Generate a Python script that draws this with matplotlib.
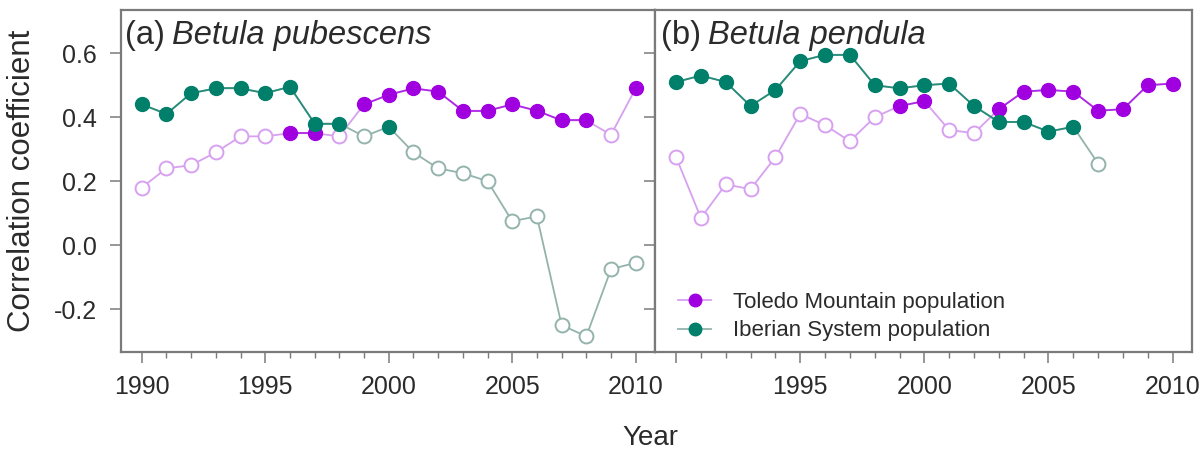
import numpy as np
import matplotlib
matplotlib.use("Agg")
import matplotlib.pyplot as plt
from matplotlib.ticker import MultipleLocator
from matplotlib.lines import Line2D

plt.rcParams['font.family'] = ['Liberation Sans', 'DejaVu Sans']

# ---------------- data ----------------
years_a = list(range(1990, 2011))
years_b_ib = list(range(1990, 2008))

# (a) Betula pubescens
a_toledo = [0.18, 0.24, 0.25, 0.29, 0.34, 0.34, 0.35, 0.35, 0.34, 0.44, 0.47,
            0.49, 0.48, 0.42, 0.42, 0.44, 0.42, 0.39, 0.39, 0.345, 0.49]
a_toledo_sig = [0, 0, 0, 0, 0, 0, 1, 1, 0, 1, 1, 1, 1, 1, 1, 1, 1, 1, 1, 0, 1]
a_iberian = [0.44, 0.41, 0.475, 0.49, 0.49, 0.475, 0.495, 0.38, 0.38, 0.34, 0.37,
             0.29, 0.24, 0.225, 0.20, 0.075, 0.09, -0.25, -0.285, -0.075, -0.055]
a_iberian_sig = [1, 1, 1, 1, 1, 1, 1, 1, 1, 0, 1, 0, 0, 0, 0, 0, 0, 0, 0, 0, 0]

# (b) Betula pendula
b_toledo = [0.275, 0.085, 0.19, 0.175, 0.275, 0.41, 0.375, 0.325, 0.40, 0.435, 0.45,
            0.36, 0.35, 0.425, 0.48, 0.485, 0.48, 0.42, 0.425, 0.50, 0.505]
b_toledo_sig = [0, 0, 0, 0, 0, 0, 0, 0, 0, 1, 1, 0, 0, 1, 1, 1, 1, 1, 1, 1, 1]
b_iberian = [0.51, 0.53, 0.51, 0.435, 0.485, 0.575, 0.595, 0.595, 0.50, 0.49,
             0.50, 0.505, 0.435, 0.385, 0.385, 0.355, 0.37, 0.255]
b_iberian_sig = [1, 1, 1, 1, 1, 1, 1, 1, 1, 1, 1, 1, 1, 1, 1, 1, 1, 0]

TOLEDO = '#A000E0'
TOLEDO_LIGHT = '#D7A0F0'
IBERIAN = '#007F6A'
IBERIAN_LIGHT = '#93B3AC'
FRAME = '#7a7a7a'
TXT = '#2b2b2b'


def draw_series(ax, x, y, sig, col, light):
    x = np.asarray(x)
    y = np.asarray(y)
    sig = np.asarray(sig, dtype=bool)
    ax.plot(x, y, color=light, lw=1.3, zorder=2)
    # darker segments between two significant years
    for i in range(len(x) - 1):
        if sig[i] and sig[i + 1]:
            ax.plot(x[i:i + 2], y[i:i + 2], color=col, lw=1.3, alpha=0.75, zorder=2)
    ax.plot(x[sig], y[sig], 'o', ms=10, color=col, mec=col, ls='none', zorder=3)
    ax.plot(x[~sig], y[~sig], 'o', ms=10, mfc='white', mec=light, mew=1.4,
            ls='none', zorder=3)


def panel_title(ax, tag, name, x0):
    t = ax.text(x0, 0.972, tag, transform=ax.transAxes, fontsize=23.5, color=TXT,
                va='top', ha='left')
    ax.annotate(name, xy=(1, 0), xycoords=t, xytext=(5, 0), textcoords='offset points',
                fontsize=23.5, color=TXT, va='bottom', ha='left', style='italic')


fig = plt.figure(figsize=(12.04, 4.54), dpi=100)
ax1 = fig.add_axes([0.1003, 0.2253, 0.4437, 0.7527])
ax2 = fig.add_axes([0.5440, 0.2253, 0.4460, 0.7527])

draw_series(ax1, years_a, a_toledo, a_toledo_sig, TOLEDO, TOLEDO_LIGHT)
draw_series(ax1, years_a, a_iberian, a_iberian_sig, IBERIAN, IBERIAN_LIGHT)
draw_series(ax2, years_a, b_toledo, b_toledo_sig, TOLEDO, TOLEDO_LIGHT)
draw_series(ax2, years_b_ib, b_iberian, b_iberian_sig, IBERIAN, IBERIAN_LIGHT)

for ax in (ax1, ax2):
    ax.set_xlim(1989.15, 2010.78)
    ax.set_ylim(-0.333, 0.735)
    ax.xaxis.set_major_locator(MultipleLocator(5))
    ax.xaxis.set_minor_locator(MultipleLocator(1))
    ax.yaxis.set_major_locator(MultipleLocator(0.2))
    for s in ax.spines.values():
        s.set_color(FRAME)
        s.set_linewidth(1.6)
    ax.tick_params(axis='both', which='major', length=8, width=1.1, color=FRAME,
                   labelsize=18, labelcolor=TXT, pad=9)
    ax.tick_params(axis='x', which='minor', length=4, width=1.0, color=FRAME)

ax1.set_yticks([-0.2, 0.0, 0.2, 0.4, 0.6])
ax1.set_yticklabels(['-0.2', '0.0', '0.2', '0.4', '0.6'])
ax2.set_yticks([-0.2, 0.0, 0.2, 0.4, 0.6])
ax2.tick_params(axis='y', labelleft=False)
ax2.set_xticks([1990, 1995, 2000, 2005, 2010])
ax2.set_xticklabels(['', '1995', '2000', '2005', '2010'])

ax1.set_ylabel('Correlation coefficient', fontsize=22.5, color=TXT, labelpad=12)
fig.text(0.54, 0.035, 'Year', fontsize=20, color=TXT, ha='center', va='center')

panel_title(ax1, '(a)', 'Betula pubescens', 0.008)
panel_title(ax2, '(b)', 'Betula pendula', 0.012)

handles = [
    Line2D([0], [0], color=TOLEDO_LIGHT, lw=1.3, marker='o', ms=9,
           mfc=TOLEDO, mec=TOLEDO),
    Line2D([0], [0], color=IBERIAN_LIGHT, lw=1.3, marker='o', ms=9,
           mfc=IBERIAN, mec=IBERIAN),
]
leg = ax2.legend(handles, ['Toledo Mountain population', 'Iberian System population'],
                 loc='lower left', bbox_to_anchor=(0.043, 0.03), frameon=False,
                 fontsize=16, handlelength=1.5, handletextpad=0.95,
                 labelspacing=0.35, borderaxespad=0, borderpad=0)
for t in leg.get_texts():
    t.set_color(TXT)

fig.savefig('out.png', dpi=100)
